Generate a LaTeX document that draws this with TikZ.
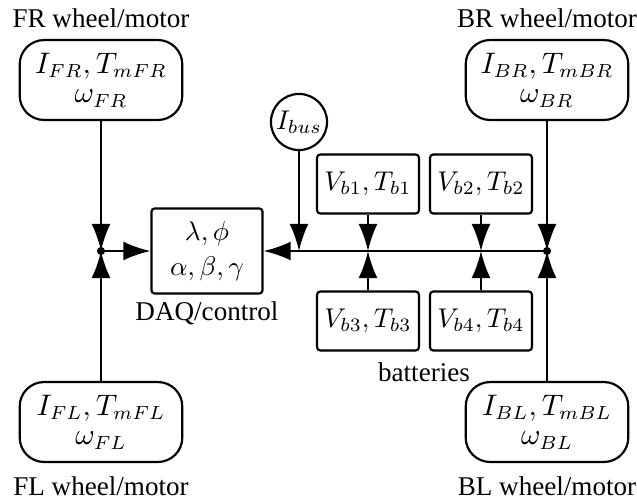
\documentclass[tikz,border=0pt]{standalone}
\usepackage[no-math]{fontspec}
\setmainfont{Liberation Serif}
\usetikzlibrary{arrows.meta}

\tikzset{
  wheel/.style={draw, thick, rounded corners=9pt, align=center,
    minimum width=60pt, minimum height=29.5pt, inner sep=1pt,
    font=\fontsize{10.6}{12}\selectfont},
  batt/.style={draw, thick, rounded corners=1.2pt,
    minimum width=37.6pt, minimum height=21.8pt, inner sep=1pt},
  arr/.style={thick, -{Latex[length=10pt,width=7pt]}}
}

\begin{document}
\begin{tikzpicture}[x=0.369pt, y=-0.369pt]
  \useasboundingbox (0,0) rectangle (637,502);

  % Ruedas / motores en las cuatro esquinas
  \node[wheel] (FR) at (101,80)  {$I_{FR},T_{mFR}$\\[-1pt]$\omega_{FR}$};
  \node[wheel] (FL) at (101,422) {$I_{FL},T_{mFL}$\\[-1pt]$\omega_{FL}$};
  \node[wheel] (BR) at (547,80)  {$I_{BR},T_{mBR}$\\[-1pt]$\omega_{BR}$};
  \node[wheel] (BL) at (547,422) {$I_{BL},T_{mBL}$\\[-1pt]$\omega_{BL}$};
  \node (FRname) at (101,18)  {FR wheel/motor};
  \node (FLname) at (101,486) {FL wheel/motor};
  \node (BRname) at (547,18)  {BR wheel/motor};
  \node (BLname) at (547,486) {BL wheel/motor};

  % Adquisicion y control
  \node[draw, thick, rounded corners=1.2pt, align=center,
        minimum width=41pt, minimum height=31.4pt] (DAQ) at (207,251)
        {$\lambda,\phi$\\[1pt]$\alpha,\beta,\gamma$};
  \node (DAQname) at (207,313) {DAQ/control};

  % Corriente del bus
  \node[draw, thick, circle, inner sep=0pt, minimum size=20.7pt] (Ibus) at (299,122) {$I_{bus}$};

  % Baterias
  \node[batt] (Vb1) at (368,184) {$V_{b1},T_{b1}$};
  \node[batt] (Vb2) at (481,184) {$V_{b2},T_{b2}$};
  \node[batt] (Vb3) at (368,321) {$V_{b3},T_{b3}$};
  \node[batt] (Vb4) at (481,321) {$V_{b4},T_{b4}$};
  \node (battname) at (424,372) {batteries};

  % Puntos de union sobre el bus
  \coordinate (jL) at (101,251);
  \coordinate (jR) at (547,251);
  \coordinate (jI) at (Ibus |- jR);
  \coordinate (j1) at (Vb1 |- jR);
  \coordinate (j2) at (Vb2 |- jR);

  % Conexiones
  \draw[arr] (FR) -- (jL);
  \draw[arr] (FL) -- (jL);
  \draw[arr] (jL) -- (DAQ);
  \draw[arr] (jR) -- (DAQ);
  \draw[arr] (Ibus) -- (jI);
  \draw[arr] (Vb1) -- (j1);
  \draw[arr] (Vb3) -- (j1);
  \draw[arr] (Vb2) -- (j2);
  \draw[arr] (Vb4) -- (j2);
  \draw[arr] (BR) -- (jR);
  \draw[arr] (BL) -- (jR);
  \fill (jL) circle (1.5pt);
  \fill (jR) circle (1.5pt);

\end{tikzpicture}
\end{document}
